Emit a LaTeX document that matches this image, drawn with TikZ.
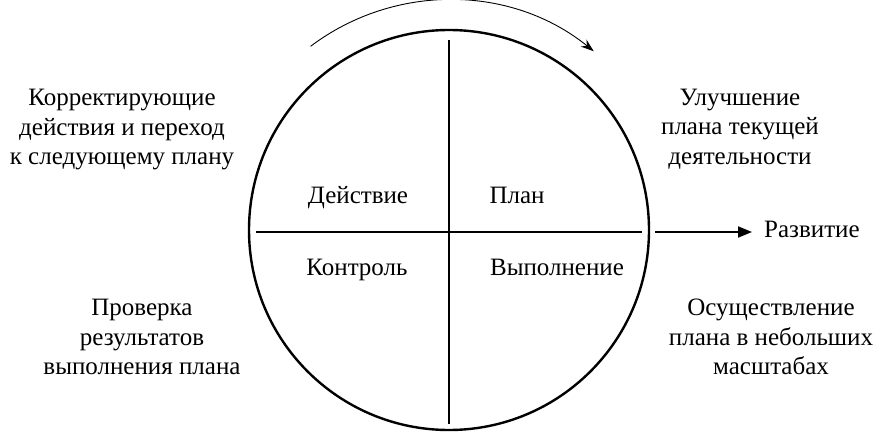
\documentclass[tikz,border=0pt]{standalone}
\usepackage{fontspec}
\setmainfont{Liberation Serif}
\newfontfamily\tnr{Liberation Serif}
\usetikzlibrary{arrows.meta}
\begin{document}
\begin{tikzpicture}[x=1pt,y=-1pt,
  lbl/.style={align=center,font=\tnr\fontsize{25}{29.5}\selectfont,inner sep=0pt},
  thickline/.style={line width=2pt},
  arr/.style={-{Triangle[length=14pt,width=11pt]}}]
\useasboundingbox (0,0) rectangle (881,433);
\coordinate (c) at (449,230);
\draw[line width=2.4pt] (c) circle[radius=200];
\coordinate (vt) at (449,40);
\coordinate (vb) at (449,424);
\coordinate (hl) at (256,232);
\coordinate (hr) at (642,232);
\coordinate (as) at (655,232);
\coordinate (ae) at (752,232);
\draw[thickline] (vt) -- (vb);
\draw[thickline] (hl) -- (hr);
\node[lbl,anchor=base west] (dev) at (764,237) {Развитие};
\draw[thickline,arr] (as) -- (ae);
\draw[line width=0.9pt,-{Stealth[length=13pt,width=9pt]}] ([shift={(-127:230)}]c) arc[start angle=-127,end angle=-51,radius=230];
\node[lbl,anchor=base] (act) at (358,204) {Действие};
\node[lbl,anchor=base] (plan) at (517,204) {План};
\node[lbl,anchor=base] (ctrl) at (357,275) {Контроль};
\node[lbl,anchor=base] (exe) at (557,275) {Выполнение};
\node[lbl] (tl) at (122,130) {Корректирующие\\действия и переход\\к следующему плану};
\node[lbl] (tr) at (740,129) {Улучшение\\плана текущей\\деятельности};
\node[lbl] (bl) at (142,337) {Проверка\\результатов\\выполнения плана};
\node[lbl] (br) at (771,337) {Осуществление\\плана в небольших\\масштабах};
\end{tikzpicture}
\end{document}
